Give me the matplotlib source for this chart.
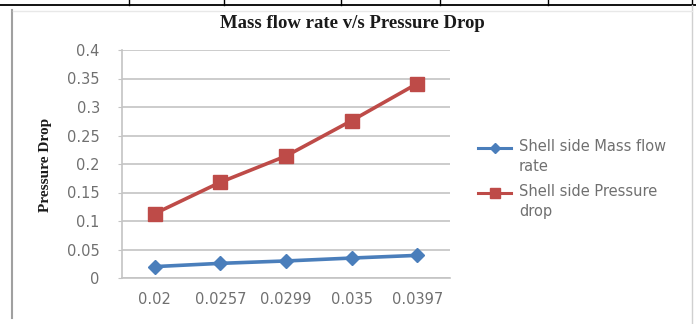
import matplotlib
matplotlib.use('Agg')
import matplotlib.pyplot as plt
from matplotlib.lines import Line2D

## Data ##################################
categories = ['0.02', '0.0257', '0.0299', '0.035', '0.0397']
mass_flow = [0.02, 0.0257, 0.0299, 0.035, 0.0397]
pressure_drop = [0.113, 0.168, 0.214, 0.276, 0.341]
yticks = [0, 0.05, 0.1, 0.15, 0.2, 0.25, 0.3, 0.35, 0.4]
ytick_labels = ['0', '0.05', '0.1', '0.15', '0.2', '0.25', '0.3', '0.35', '0.4']
legend_labels = ['Shell side Mass flow\nrate', 'Shell side Pressure\ndrop']

blue = '#4A7EBB'
red = '#BE4B48'
grey_txt = '#707070'

W, H = 696, 324
fig = plt.figure(figsize=(W / 100, H / 100), dpi=100)
fig.patch.set_facecolor('white')

def fx(x):
    return x / W

def fy(y):
    return 1 - y / H

## page decorations (table border around the chart) ###########
fig.add_artist(Line2D([0, 1], [fy(5), fy(5)], color='black', lw=1.3))
for xv in [129, 224, 341, 440, 548]:
    fig.add_artist(Line2D([fx(xv), fx(xv)], [1, fy(5)], color='black', lw=1.0))
fig.add_artist(Line2D([fx(692), fx(692)], [1, fy(5)], color='black', lw=1.0))
fig.add_artist(Line2D([fx(12), fx(12)], [fy(10), fy(318)], color='#A0A0A0', lw=1.5))
fig.add_artist(Line2D([fx(692), fx(692)], [fy(5), 0], color='#D0D0D0', lw=1.0))
fig.add_artist(Line2D([fx(13), fx(692)], [fy(11), fy(11)], color='#E8E8E8', lw=1.0))

## chart ###########
ax = fig.add_axes([fx(122), 46 / H, 328 / W, 228 / H])
x = list(range(len(categories)))
ax.plot(x, mass_flow, color=blue, lw=2.6, marker='D', ms=7.5)
ax.plot(x, pressure_drop, color=red, lw=2.6, marker='s', ms=9.5)

ax.set_xlim(-0.5, len(categories) - 0.5)
ax.set_ylim(0, 0.4)
ax.set_yticks(yticks)
ax.set_yticklabels(ytick_labels)
ax.set_xticks(x)
ax.set_xticklabels(categories)
ax.yaxis.grid(True, color='#C4C4C4', lw=1.2)
ax.set_axisbelow(True)
for s in ['top', 'right']:
    ax.spines[s].set_visible(False)
for s in ['left', 'bottom']:
    ax.spines[s].set_color('#C4C4C4')
    ax.spines[s].set_linewidth(1.2)
ax.tick_params(axis='both', colors='#C4C4C4', labelcolor=grey_txt, labelsize=10.5, length=3)
ax.tick_params(axis='y', pad=13)
ax.tick_params(axis='x', length=0, pad=10)
for lab in ax.get_xticklabels() + ax.get_yticklabels():
    lab.set_family('DejaVu Sans')

fig.text(fx(352), fy(23), 'Mass flow rate v/s Pressure Drop', ha='center', va='center',
         family='Liberation Serif', fontweight='bold', fontsize=13.5, color='#1A1A1A')
fig.text(fx(46), fy(165), 'Pressure Drop', ha='center', va='center', rotation=90,
         family='Liberation Serif', fontweight='bold', fontsize=11, color='#1A1A1A')

## legend (handle lines up with the first text line, like Excel) ###########
for lab, col, mk, ms, yv in zip(legend_labels, [blue, red], ['D', 's'], [5.5, 7.5], [148, 193]):
    fig.add_artist(Line2D([fx(478), fx(511)], [fy(yv), fy(yv)], color=col, lw=2.2))
    fig.add_artist(Line2D([fx(495)], [fy(yv)], color=col, marker=mk, ms=ms, lw=0))
    fig.text(fx(519), fy(yv - 9), lab, ha='left', va='top', family='DejaVu Sans',
             fontsize=10.5, color=grey_txt, linespacing=1.45)

fig.savefig('out.png', dpi=100)
